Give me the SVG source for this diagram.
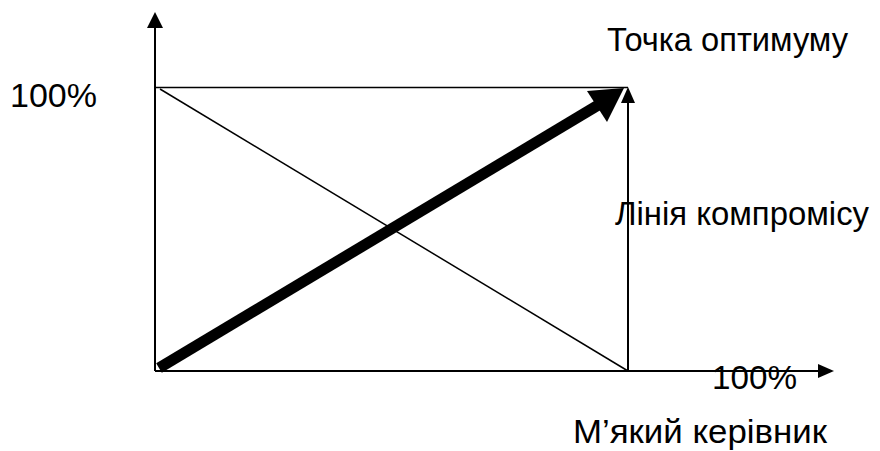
<svg xmlns="http://www.w3.org/2000/svg" width="880" height="451" viewBox="0 0 880 451">
<style>
.t{font-family:"Liberation Sans",Arial,sans-serif;font-size:33px;fill:#000}
.ax{stroke:#000;stroke-width:2;fill:none}
.th{stroke:#000;stroke-width:1.5;fill:none}
</style>
<rect width="880" height="451" fill="#fff"/>
<g id="connectors">
<line class="ax" x1="155" y1="371" x2="155" y2="26"/>
<polygon points="155,12 147,28 163,28" fill="#000"/>
<line class="ax" x1="155" y1="371" x2="819" y2="371"/>
<polygon points="834,371 818,364 818,378" fill="#000"/>
<line class="th" x1="155" y1="87.5" x2="628" y2="87.5"/>
<line class="ax" x1="628" y1="371" x2="628" y2="101"/>
<polygon points="628,87 621,103 635,103" fill="#000"/>
<line class="th" x1="160" y1="89" x2="628" y2="371"/>
<line x1="159" y1="368" x2="600" y2="104" stroke="#000" stroke-width="11"/>
<polygon points="624,88 587,91 607,122" fill="#000"/>
</g>
<g id="label-optimum"><text class="t" x="607" y="51" textLength="241" lengthAdjust="spacingAndGlyphs">Точка оптимуму</text></g>
<g id="label-100-y"><text class="t" x="10" y="107" textLength="87" lengthAdjust="spacingAndGlyphs">100%</text></g>
<g id="label-compromise"><text class="t" x="615" y="225" textLength="254" lengthAdjust="spacingAndGlyphs">Лінія компромісу</text></g>
<g id="label-100-x"><text class="t" x="712" y="389" textLength="85" lengthAdjust="spacingAndGlyphs">100%</text></g>
<g id="label-soft"><text class="t" x="573" y="443" textLength="254" lengthAdjust="spacingAndGlyphs">М’який керівник</text></g>
</svg>
